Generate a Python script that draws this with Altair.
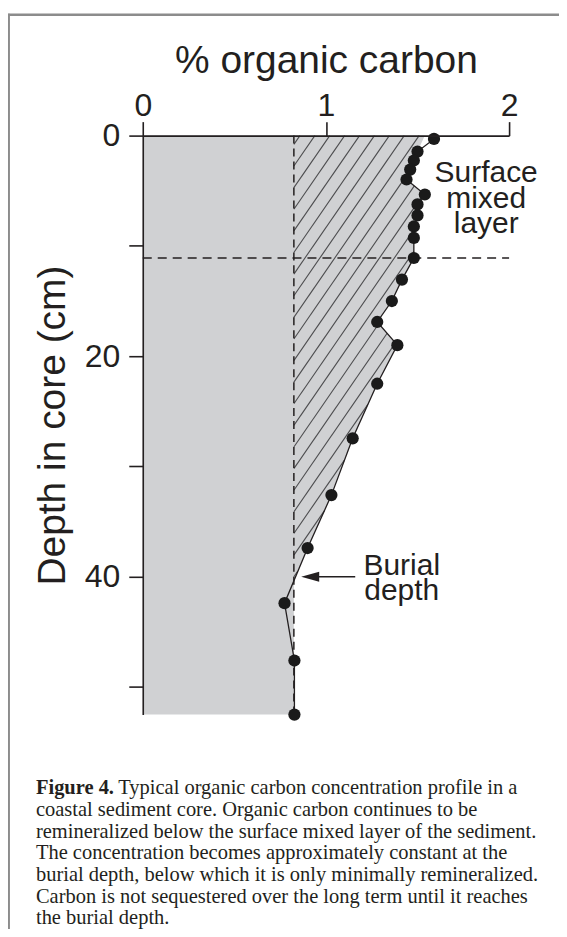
import altair as alt
import numpy as np
import pandas as pd

# ---------------- values ----------------
depth_cm = [0.3, 1.45, 2.26, 3.08, 3.98, 5.34, 6.24, 7.24, 8.24, 9.28, 11.1,
            13.06, 15.0, 16.9, 19.0, 22.5, 27.45, 32.6, 37.4, 42.4, 47.6, 52.5]
carbon_pct = [1.59, 1.50, 1.48, 1.46, 1.44, 1.54, 1.50, 1.50, 1.48, 1.48, 1.48,
              1.415, 1.36, 1.28, 1.39, 1.28, 1.146, 1.03, 0.90, 0.774, 0.828, 0.828]

# outline of the shaded (grey) area
shade_depth = [0.0, 1.45, 2.26, 3.08, 3.98, 5.34, 6.24, 7.24, 8.24, 9.28, 11.1,
               13.06, 15.0, 16.9, 19.0, 22.5, 27.45, 32.6, 37.4, 40.3, 52.5]
shade_carbon = [1.54, 1.50, 1.48, 1.46, 1.44, 1.54, 1.50, 1.50, 1.48, 1.48, 1.48,
                1.415, 1.36, 1.28, 1.39, 1.28, 1.146, 1.03, 0.90, 0.825, 0.825]

burial_carbon = 0.825
burial_depth = 40.3
mixed_layer_depth = 11.1
depth_max = 52.5
carbon_max = 2
depth_ticks = [0, 10, 20, 30, 40, 50]

x_title = "% organic carbon"
y_title = "Depth in core (cm)"
label_surface = ["Surface", "mixed", "layer"]
label_burial = ["Burial", "depth"]
caption_bold = "Figure 4."
caption_lines = [
    "Typical organic carbon concentration profile in a",
    "coastal sediment core. Organic carbon continues to be",
    "remineralized below the surface mixed layer of the sediment.",
    "The concentration becomes approximately constant at the",
    "burial depth, below which it is only minimally remineralized.",
    "Carbon is not sequestered over the long term until it reaches",
    "the burial depth.",
]

# ---------------- hatch lines inside the region above burial depth ----------------
hatch_slope = 24.1   # cm of depth per % carbon along a hatch line
hatch_step = 1.96    # spacing of hatch lines along the dashed line (cm)
hatch_first = 0.8


def boundary(d):
    return np.interp(d, shade_depth, shade_carbon)


segs = []
d0 = hatch_first
while d0 < burial_depth:
    u = np.linspace(0, 1.5, 6001)
    v = burial_carbon + u
    d = d0 - hatch_slope * u
    inside = (d >= 0) & (v <= boundary(np.clip(d, 0, None)))
    out = int(np.argmax(~inside[1:])) + 1
    v2, d2 = v[out], d[out]
    if d2 < 0:
        d2 = 0.0
        v2 = burial_carbon + d0 / hatch_slope
    segs.append({"v1": burial_carbon, "d1": d0, "v2": float(v2), "d2": float(d2)})
    d0 += hatch_step
hatch_df = pd.DataFrame(segs)

pts = pd.DataFrame({"carbon": carbon_pct, "depth": depth_cm,
                    "order": list(range(len(depth_cm)))})
shade = pd.DataFrame({"carbon": shade_carbon, "depth": shade_depth,
                      "base": [0.0] * len(shade_depth)})

INK = "#231f20"
SANS = "Liberation Sans"
SERIF = "Liberation Serif"

xs = alt.Scale(domain=[0, carbon_max], nice=False, zero=False)
ys = alt.Scale(domain=[0, depth_max], nice=False, zero=False, reverse=True)

x_axis = alt.Axis(orient="top", tickCount=2, title=x_title,
                  labelExpr="format(datum.value, 'd')",
                  tickSize=14, tickWidth=1.6, tickColor=INK,
                  domainWidth=1.6, domainColor=INK, grid=False,
                  labelFont=SANS, labelFontSize=32, labelColor=INK,
                  labelPadding=6, labelBaseline="alphabetic",
                  labelFlush=False, labelOverlap=False, labelBound=False,
                  titleFont=SANS, titleFontSize=39, titleFontWeight="normal",
                  titleColor=INK, titleY=-63, titleBaseline="alphabetic",
                  zindex=1)
y_axis = alt.Axis(orient="left", values=depth_ticks, title=y_title,
                  labelExpr="datum.value % 20 == 0 ? datum.label : ''",
                  tickSize=14, tickWidth=1.6, tickColor=INK,
                  domainWidth=1.6, domainColor=INK, grid=False,
                  labelFont=SANS, labelFontSize=32, labelColor=INK,
                  labelPadding=9, labelFlush=False, labelOverlap=False,
                  titleFont=SANS, titleFontSize=39, titleFontWeight="normal",
                  titleColor=INK, titleAngle=270, titleX=-78, titleY=290,
                  titleBaseline="alphabetic", titleAlign="center",
                  zindex=1)


def X(f):
    return alt.X(f, type="quantitative", scale=xs, axis=x_axis)


def Y(f):
    return alt.Y(f, type="quantitative", scale=ys, axis=y_axis)


# grey area
area = alt.Chart(shade).mark_area(orient="horizontal", color="#d0d1d3", opacity=1).encode(
    y=Y("depth"), x=X("carbon"), x2="base")

# hatching
hatch = alt.Chart(hatch_df).mark_rule(color="#4d4d4f", strokeWidth=1.1).encode(
    x=X("v1"), y=Y("d1"), x2="v2", y2="d2")

# dashed reference lines
vline_df = pd.DataFrame({"carbon": [burial_carbon], "d_top": [0.0], "d_bot": [depth_max]})
vline = alt.Chart(vline_df).mark_rule(color=INK, strokeWidth=1.5, strokeDash=[8, 5]).encode(
    x=X("carbon"), y=Y("d_top"), y2="d_bot")

hline_df = pd.DataFrame({"depth": [mixed_layer_depth], "c0": [0.0], "c1": [float(carbon_max)]})
hline = alt.Chart(hline_df).mark_rule(color=INK, strokeWidth=1.5, strokeDash=[9, 6]).encode(
    y=Y("depth"), x=X("c0"), x2="c1")

# profile
line = alt.Chart(pts).mark_line(color=INK, strokeWidth=1.3).encode(
    x=X("carbon"), y=Y("depth"), order="order:Q")
dots = alt.Chart(pts).mark_circle(color="#1a1a1a", size=150, opacity=1).encode(
    x=X("carbon"), y=Y("depth"))

# annotations (one text per line, stacked along the depth axis)
ANN = 30
LINE_CM = 25.5 / 11.05   # line spacing expressed in cm of depth
surf_df = pd.DataFrame({"carbon": [1.875] * 3,
                        "depth": [4.23 + i * LINE_CM for i in range(3)],
                        "t": label_surface})
surf = alt.Chart(surf_df).mark_text(font=SANS, fontSize=ANN, color=INK, align="center",
                                    baseline="alphabetic").encode(
    x=X("carbon"), y=Y("depth"), text="t")

bur_df = pd.DataFrame({"carbon": [1.414] * 2,
                       "depth": [39.8 + i * LINE_CM for i in range(2)],
                       "t": label_burial})
bur = alt.Chart(bur_df).mark_text(font=SANS, fontSize=ANN, color=INK, align="center",
                                  baseline="alphabetic").encode(
    x=X("carbon"), y=Y("depth"), text="t")

arrow_df = pd.DataFrame({"c0": [0.95], "c1": [1.16], "depth": [40.0]})
arrow_shaft = alt.Chart(arrow_df).mark_rule(color=INK, strokeWidth=1.6).encode(
    x=X("c0"), x2="c1", y=Y("depth"))
head_df = pd.DataFrame({"carbon": [0.865], "depth": [40.0]})
arrow_head = alt.Chart(head_df).mark_point(shape="M0,0 L4,-1.1 L4,1.1 Z", filled=True,
                                           size=81, color=INK, opacity=1,
                                           strokeWidth=0).encode(
    x=X("carbon"), y=Y("depth"))

# frame lines of the figure box
one = pd.DataFrame({"k": [0]})
frame_top = alt.Chart(one).mark_rule(color="#8c8c8c", strokeWidth=2.5).encode(
    x=alt.value(-135.5), x2=alt.value(430), y=alt.value(-121))
frame_left = alt.Chart(one).mark_rule(color="#8c8c8c", strokeWidth=2.5).encode(
    x=alt.value(-134.3), y=alt.value(-122), y2=alt.value(800))

# caption
CAP = 20.5
cap_bold = alt.Chart(pd.DataFrame({"t": [caption_bold]})).mark_text(
    font=SERIF, fontSize=CAP, fontWeight="bold", color=INK, align="left",
    baseline="alphabetic").encode(x=alt.value(-107), y=alt.value(659.8), text="t")
cap_first = alt.Chart(pd.DataFrame({"t": [caption_lines[0]]})).mark_text(
    font=SERIF, fontSize=CAP, color=INK, align="left",
    baseline="alphabetic").encode(x=alt.value(-24.5), y=alt.value(659.8), text="t")
cap_rest = alt.Chart(pd.DataFrame({"t": ["\n".join(caption_lines[1:])]})).mark_text(
    font=SERIF, fontSize=CAP, color=INK, align="left", baseline="alphabetic",
    lineBreak="\n", lineHeight=21.7).encode(x=alt.value(-107), y=alt.value(681.5), text="t")

chart = alt.layer(
    area, hatch, vline, hline, line, dots, surf, bur, arrow_shaft, arrow_head,
    frame_top, frame_left, cap_bold, cap_first, cap_rest,
).properties(
    width=367, height=580,
    padding={"left": 135, "top": 127, "right": 50, "bottom": 214},
    autosize=alt.AutoSizeParams(type="none"),
    background="white",
).configure_view(stroke=None)

chart.save("out.html", embed_options={"renderer": "svg", "actions": False})
